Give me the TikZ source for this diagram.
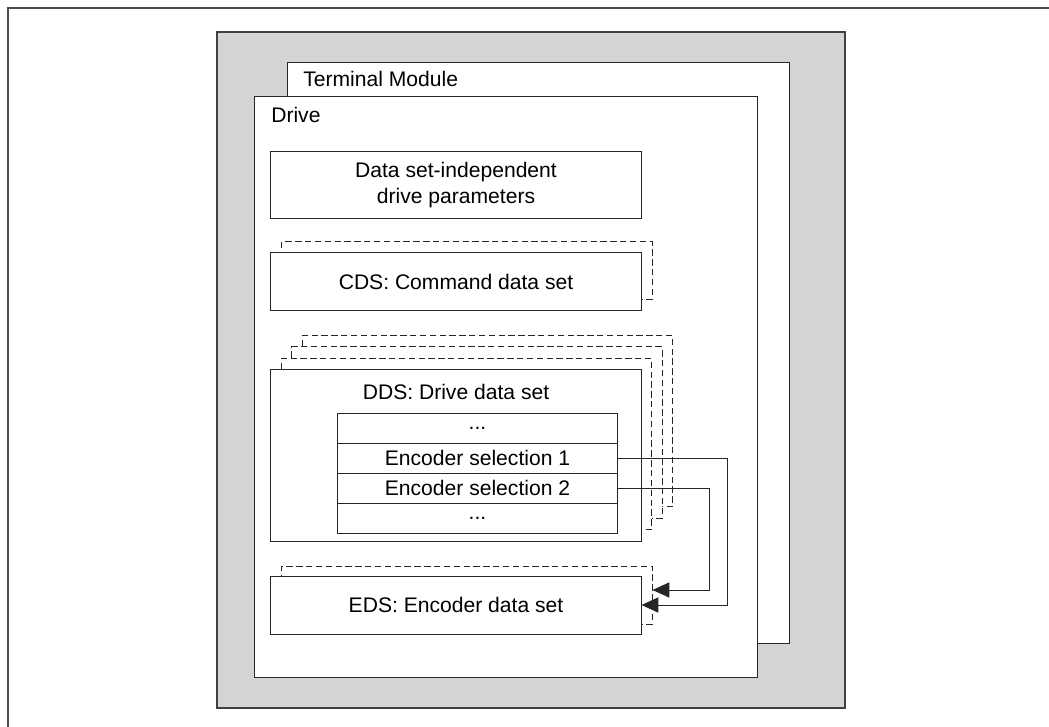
\documentclass[tikz,border=0pt]{standalone}
\usepackage{fontspec}
\setmainfont{Liberation Sans}
\usetikzlibrary{arrows.meta}
\begin{document}
\begin{tikzpicture}[x=0.025cm, y=-0.025cm, every node/.style={font=\fontsize{15}{18.5}\selectfont},
  box/.style={draw=black!85,fill=white,line width=0.7pt,minimum width=9.25cm,inner sep=0pt},
  ghost/.style={box,dash pattern=on 4.5pt off 2.5pt},
  row/.style={draw=black!85,fill=white,line width=0.7pt,minimum width=6.975cm,minimum height=0.75cm,inner sep=0pt},
  lbl/.style={anchor=west,inner sep=0pt},
  link/.style={draw=black!85,line width=0.7pt,-{Triangle[length=0.42cm,width=0.38cm]}}]
\useasboundingbox (0,0) rectangle (1049,727);
\draw[black!70,line width=1.3pt] (8,727) -- (8,8) -- (1049,8);
% control unit, terminal module, drive
\node[draw=black!75,fill=black!17,line width=1.2pt,minimum width=15.7cm,minimum height=16.9cm] (cu) at (531,370) {};
\node[box,minimum width=12.525cm,minimum height=14.5cm] (tm) at (538.5,353) {};
\node[lbl] (tmt) at (303,79) {Terminal Module};
\node[box,minimum width=12.55cm,minimum height=14.5cm] (drv) at (506,387) {};
\node[lbl] (drvt) at (271,115) {Drive};
\node[box,minimum height=1.65cm,align=center] (dip) at (456,185) {Data set-independent\\drive parameters};
% CDS
\node[ghost,minimum height=1.425cm] (cds1) at (467,270.5) {};
\node[box,minimum height=1.425cm] (cds) at (456,281.5) {CDS: Command data set};
% DDS
\foreach \k in {3,2,1}
  \node[ghost,minimum height=4.275cm] (dds\k) at (456+10.5*\k,455.5-11.5*\k) {};
\node[box,minimum height=4.275cm] (dds) at (456,455.5) {};
\node (ddst) at (456,392) {DDS: Drive data set};
\node[row] (r1) at (477.5,428) {...};
\node[row] (r2) at (477.5,458) {Encoder selection 1};
\node[row] (r3) at (477.5,488) {Encoder selection 2};
\node[row] (r4) at (477.5,518) {...};
% EDS
\node[ghost,minimum height=1.45cm] (eds1) at (467,595) {};
\node[box,minimum height=1.45cm] (eds) at (456,605) {EDS: Encoder data set};
\draw[link] (r2.east) -- ++(110,0) |- (eds.east);
\draw[link] (r3.east) -- ++(92,0) |- ([yshift=0.125cm]eds1.east);
\end{tikzpicture}
\end{document}
